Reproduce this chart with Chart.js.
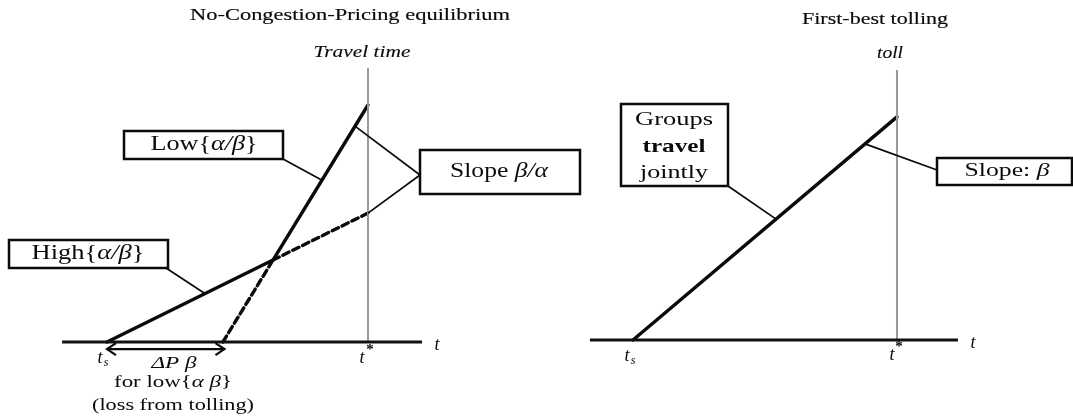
<!DOCTYPE html>
<html>
<head>
<meta charset="utf-8">
<script src="https://cdn.jsdelivr.net/npm/chart.js@4.4.1/dist/chart.umd.min.js"></script>
<style>
  html, body { margin:0; padding:0; background:#fff; }
  body { width:1073px; height:417px; overflow:hidden; position:relative; }
  canvas { position:absolute; top:0; }
</style>
</head>
<body>
<canvas id="left" width="600" height="417" style="left:0;width:600px;height:417px"></canvas>
<canvas id="right" width="533" height="417" style="left:540px;width:533px;height:417px"></canvas>
<script>
// ---------- data (time t on x, travel time / toll on y; t_s = 0, t* = 10) ----------
const tS = 0;
const tStar = 10;
// Left panel: No-Congestion-Pricing equilibrium
const lowGroupT    = [4.44, 6.36, 10.0];
const lowGroupCost = [0, 3.14, 9.08];
const highGroupT    = [0, 6.36, 10.0];
const highGroupCost = [0, 3.14, 4.94];
// Right panel: First-best tolling
const tollT     = [0, 10];
const tollValue = [0, 8.45];
// axis labels
const axisTickLabels = ['t', 's', '*'];

// ---------- helpers ----------
const INK = '#0a0a0a';
function fontFor(style, size) {
  return (style.indexOf('i') >= 0 ? 'italic ' : '') + (style.indexOf('b') >= 0 ? 'bold ' : '') +
         size + 'px "Liberation Serif", "DejaVu Serif", serif';
}
function drawRich(ctx, parts, cx, cy, size, targetW, heavy) {
  const widths = parts.map(p => { ctx.font = fontFor(p[1], size); return ctx.measureText(p[0]).width; });
  const total = widths.reduce((a, b) => a + b, 0);
  const sx = targetW ? targetW / total : 1;
  ctx.save();
  ctx.translate(cx, cy);
  ctx.scale(sx, 1);
  ctx.textBaseline = 'middle';
  ctx.textAlign = 'left';
  ctx.fillStyle = INK;
  ctx.strokeStyle = INK;
  ctx.lineWidth = heavy || 0;
  let x = -total / 2;
  parts.forEach((p, i) => {
    ctx.font = fontFor(p[1], size);
    ctx.fillText(p[0], x, 0);
    if (heavy) ctx.strokeText(p[0], x, 0);
    x += widths[i];
  });
  ctx.restore();
}
function pts(xs, ys) { return xs.map((x, i) => ({ x: x, y: ys[i] })); }

// Annotation plugin: boxes/texts in page px (layout), leader ends & arrows in data units
const annotPlugin = {
  id: 'annot',
  afterDatasetsDraw(chart, args, opts) {
    const ctx = chart.ctx;
    const xs = chart.scales.x, ys = chart.scales.y;
    const off = opts.offsetX || 0;
    const P = (x, y) => [xs.getPixelForValue(x), ys.getPixelForValue(y)];
    ctx.save();
    ctx.strokeStyle = INK; ctx.lineWidth = 1.7; ctx.setLineDash([]);
    (opts.leaders || []).forEach(l => {
      const e = P(l.to[0], l.to[1]);
      ctx.beginPath(); ctx.moveTo(l.from[0] - off, l.from[1]); ctx.lineTo(e[0], e[1]); ctx.stroke();
    });
    (opts.boxes || []).forEach(b => {
      ctx.fillStyle = '#fff';
      ctx.fillRect(b.x - off, b.y, b.w, b.h);
      ctx.strokeStyle = INK; ctx.lineWidth = 2.5;
      ctx.strokeRect(b.x - off, b.y, b.w, b.h);
    });
    (opts.arrows || []).forEach(a => {
      const p0 = P(a.from[0], a.from[1]), p1 = P(a.to[0], a.to[1]);
      ctx.strokeStyle = INK; ctx.lineWidth = 2.2;
      ctx.beginPath(); ctx.moveTo(p0[0], p0[1]); ctx.lineTo(p1[0], p1[1]); ctx.stroke();
      ctx.beginPath();
      ctx.moveTo(p0[0] + 9, p0[1] - 6); ctx.lineTo(p0[0], p0[1]); ctx.lineTo(p0[0] + 9, p0[1] + 6);
      ctx.moveTo(p1[0] - 9, p1[1] - 6); ctx.lineTo(p1[0], p1[1]); ctx.lineTo(p1[0] - 9, p1[1] + 6);
      ctx.stroke();
    });
    (opts.texts || []).forEach(t => drawRich(ctx, t.parts, t.x - off, t.y, t.size, t.w, t.heavy));
    ctx.restore();
  }
};
Chart.register(annotPlugin);

function baseOptions(xmin, xmax, ymin, ymax, annot) {
  return {
    responsive: false,
    animation: false,
    devicePixelRatio: 1,
    layout: { padding: 0 },
    scales: {
      x: { type: 'linear', min: xmin, max: xmax, display: false },
      y: { type: 'linear', min: ymin, max: ymax, display: false }
    },
    plugins: { legend: { display: false }, tooltip: { enabled: false }, annot: annot },
    elements: { point: { radius: 0 }, line: { tension: 0 } }
  };
}
const axisStyle = { borderColor: '#121212', borderWidth: 3.2, showLine: true, pointRadius: 0, fill: false };
const vStyle = { borderColor: '#9a9a9a', borderWidth: 2, showLine: true, pointRadius: 0, fill: false };
const curveStyle = { borderColor: '#0a0a0a', borderWidth: 3.4, showLine: true, pointRadius: 0, fill: false, borderCapStyle: 'round' };

// ---------- left chart ----------
new Chart(document.getElementById('left'), {
  type: 'scatter',
  data: {
    datasets: [
      Object.assign({ data: pts([-1.72, 12.07], [0, 0]) }, axisStyle),
      Object.assign({ data: pts([tStar, tStar], [0, 10.5]) }, vStyle),
      Object.assign({
        data: pts(lowGroupT, lowGroupCost),
        segment: { borderDash: c => c.p0DataIndex === 0 ? [7, 4] : undefined }
      }, curveStyle),
      Object.assign({
        data: pts(highGroupT, highGroupCost),
        segment: { borderDash: c => c.p0DataIndex === 1 ? [7, 4] : undefined }
      }, curveStyle)
    ]
  },
  options: baseOptions(-4.0996, 18.889, -2.8736, 13.1034, {
    offsetX: 0,
    leaders: [
      { from: [283, 159], to: [8.24, 6.2] },
      { from: [166, 268], to: [3.72, 1.88] },
      { from: [420, 175], to: [9.5, 8.27] },
      { from: [420, 175], to: [10, 4.94] }
    ],
    boxes: [
      { x: 124, y: 131, w: 159, h: 28 },
      { x: 9, y: 240, w: 159, h: 28 },
      { x: 420, y: 150, w: 160, h: 44 }
    ],
    arrows: [ { from: [tS, -0.27], to: [4.5, -0.27] } ],
    texts: [
      { parts: [['No-Congestion-Pricing equilibrium', '']], x: 350, y: 16, size: 16, w: 320, heavy: 0.15 },
      { parts: [['Travel time', 'i']], x: 362, y: 53, size: 16, w: 97, heavy: 0.1 },
      { parts: [['Low{', ''], ['α/β', 'i'], ['}', '']], x: 204, y: 145, size: 20, w: 107 },
      { parts: [['High{', ''], ['α/β', 'i'], ['}', '']], x: 88, y: 254, size: 20, w: 113 },
      { parts: [['Slope ', ''], ['β/α', 'i']], x: 499, y: 172, size: 20, w: 98 },
      { parts: [['ΔP β', 'i']], x: 174, y: 364, size: 17, w: 45 },
      { parts: [['for low{', ''], ['α β', 'i'], ['}', '']], x: 173, y: 383, size: 17, w: 118 },
      { parts: [['(loss from tolling)', '']], x: 173, y: 406, size: 17, w: 162 },
      { parts: [[axisTickLabels[0], 'i']], x: 437, y: 345, size: 18 },
      { parts: [[axisTickLabels[0], 'i']], x: 100, y: 358, size: 18 },
      { parts: [[axisTickLabels[1], 'i']], x: 106, y: 363, size: 12 },
      { parts: [[axisTickLabels[0], 'i']], x: 362, y: 358, size: 18 },
      { parts: [[axisTickLabels[2], 'b']], x: 370, y: 350, size: 15 }
    ]
  })
});

// ---------- right chart ----------
new Chart(document.getElementById('right'), {
  type: 'scatter',
  data: {
    datasets: [
      Object.assign({ data: pts([-1.63, 12.31], [0, 0]) }, axisStyle),
      Object.assign({ data: pts([tStar, tStar], [0, 10.23]) }, vStyle),
      Object.assign({ data: pts(tollT, tollValue) }, curveStyle)
    ]
  },
  options: baseOptions(-3.5227, 16.667, -2.9167, 12.8788, {
    offsetX: 540,
    leaders: [
      { from: [728, 186], to: [5.42, 4.58] },
      { from: [937, 170], to: [8.79, 7.43] }
    ],
    boxes: [
      { x: 621, y: 104, w: 107, h: 82 },
      { x: 937, y: 158, w: 135, h: 27 }
    ],
    texts: [
      { parts: [['First-best tolling', '']], x: 875, y: 20, size: 16, w: 146, heavy: 0.15 },
      { parts: [['toll', 'i']], x: 890, y: 54, size: 16, w: 26, heavy: 0.1 },
      { parts: [['Groups', '']], x: 674, y: 120, size: 19, w: 78 },
      { parts: [['travel', 'b']], x: 674, y: 147, size: 19, w: 63 },
      { parts: [['jointly', '']], x: 674, y: 173, size: 19, w: 68 },
      { parts: [['Slope: ', ''], ['β', 'i']], x: 1007, y: 171, size: 19, w: 85 },
      { parts: [[axisTickLabels[0], 'i']], x: 973, y: 343, size: 18 },
      { parts: [[axisTickLabels[0], 'i']], x: 627, y: 356, size: 18 },
      { parts: [[axisTickLabels[1], 'i']], x: 633, y: 361, size: 12 },
      { parts: [[axisTickLabels[0], 'i']], x: 892, y: 355, size: 18 },
      { parts: [[axisTickLabels[2], 'b']], x: 899, y: 347, size: 15 }
    ]
  })
});
</script>
</body>
</html>
